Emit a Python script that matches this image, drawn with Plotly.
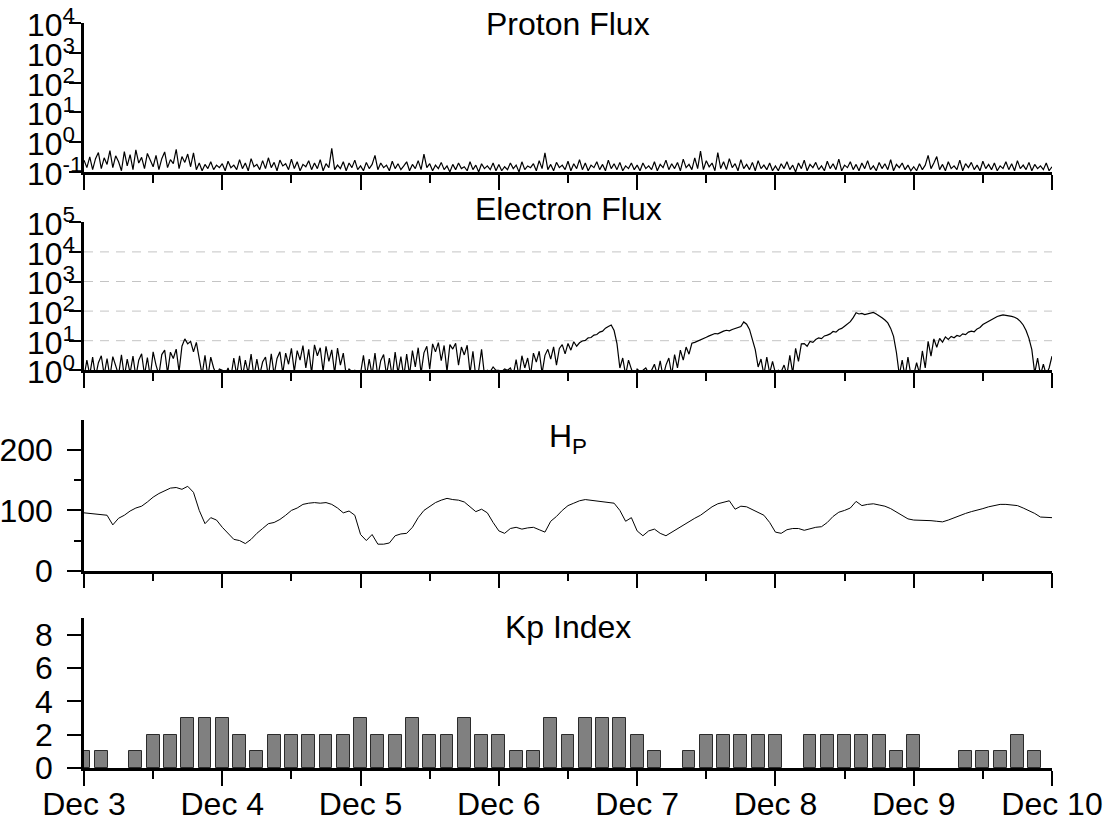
import numpy as np
import pandas as pd
import plotly.graph_objects as go

# ---------------- data ----------------
START = pd.Timestamp("2023-12-03 00:00")
END = pd.Timestamp("2023-12-10 00:00")

# Proton flux, 30-minute samples from Dec 3 00:00
proton_flux = [
    # Dec 3
    0.25,0.14,0.32,0.12,0.28,0.45,0.13,0.3,0.18,0.52,0.14,0.35,0.22,0.11,0.48,0.16,0.38,0.12,0.55,0.2,0.31,0.13,0.42,0.24,
    0.15,0.36,0.12,0.28,0.47,0.14,0.26,0.19,0.58,0.13,0.33,0.21,0.4,0.15,0.44,0.12,0.2,0.11,0.18,0.13,0.22,0.12,0.17,0.14,
    # Dec 4
    0.19,0.11,0.23,0.14,0.17,0.12,0.26,0.13,0.2,0.11,0.28,0.15,0.18,0.12,0.24,0.13,0.3,0.14,0.21,0.11,0.25,0.16,0.19,0.12,
    0.27,0.13,0.22,0.11,0.18,0.15,0.24,0.12,0.2,0.13,0.26,0.11,0.19,0.14,0.62,0.12,0.17,0.13,0.22,0.11,0.2,0.14,0.25,0.12,
    # Dec 5
    0.16,0.11,0.21,0.13,0.18,0.36,0.12,0.2,0.14,0.17,0.11,0.23,0.13,0.19,0.12,0.16,0.22,0.11,0.18,0.13,0.24,0.12,0.4,0.14,
    0.19,0.11,0.17,0.13,0.21,0.12,0.16,0.1,0.18,0.12,0.2,0.13,0.15,0.11,0.22,0.12,0.17,0.1,0.19,0.13,0.16,0.12,0.2,0.11,
    # Dec 6
    0.18,0.11,0.15,0.12,0.2,0.13,0.17,0.1,0.22,0.12,0.16,0.14,0.19,0.11,0.24,0.13,0.44,0.12,0.18,0.11,0.21,0.14,0.17,0.12,
    0.23,0.11,0.19,0.13,0.26,0.12,0.2,0.11,0.17,0.14,0.22,0.12,0.18,0.11,0.25,0.13,0.19,0.12,0.21,0.11,0.16,0.13,0.2,0.12,
    # Dec 7
    0.17,0.11,0.2,0.13,0.16,0.12,0.22,0.11,0.18,0.14,0.25,0.12,0.19,0.13,0.21,0.11,0.27,0.14,0.18,0.12,0.3,0.13,0.5,0.12,
    0.24,0.15,0.2,0.11,0.45,0.13,0.22,0.12,0.28,0.14,0.19,0.11,0.26,0.13,0.18,0.12,0.21,0.11,0.24,0.13,0.17,0.12,0.2,0.11,
    # Dec 8
    0.16,0.11,0.19,0.13,0.22,0.12,0.17,0.1,0.2,0.13,0.25,0.11,0.18,0.14,0.21,0.12,0.16,0.11,0.23,0.13,0.19,0.12,0.27,0.11,
    0.17,0.14,0.22,0.12,0.18,0.11,0.2,0.13,0.24,0.12,0.16,0.11,0.21,0.13,0.19,0.12,0.26,0.11,0.18,0.14,0.2,0.12,0.17,0.11,
    # Dec 9 (+ Dec 10 00:00)
    0.15,0.11,0.19,0.12,0.17,0.36,0.13,0.2,0.33,0.12,0.18,0.11,0.22,0.13,0.16,0.12,0.25,0.11,0.19,0.14,0.21,0.12,0.17,0.11,
    0.23,0.13,0.18,0.12,0.2,0.11,0.16,0.13,0.22,0.12,0.19,0.11,0.24,0.13,0.17,0.12,0.21,0.11,0.18,0.13,0.16,0.12,0.2,0.11,
    0.15,
]

# Electron flux, 30-minute samples from Dec 3 00:00 (values < 1 fall below the axis)
electron_flux = [
    # Dec 3
    0.6,2.2,0.7,2.8,0.6,1.8,3.1,0.7,2.5,0.6,2.9,1.4,0.7,3.3,0.6,2.4,0.8,3.0,0.6,2.2,3.6,0.7,2.7,0.6,
    4.2,1.5,0.7,3.4,4.8,0.8,4.1,2.5,5.2,0.9,6.5,11.5,7.8,9.5,4.2,8.8,2.6,0.7,3.2,0.6,2.8,1.2,0.7,1.1,
    # Dec 4
    1.0,0.7,1.2,0.6,2.6,0.7,3.1,0.6,2.2,0.8,3.5,0.6,2.4,0.7,1.9,2.8,0.6,3.6,0.7,2.5,4.2,0.8,3.8,1.6,
    5.5,0.9,4.6,2.2,6.8,1.2,5.1,0.8,7.2,3.1,5.8,0.9,6.4,2.0,4.9,0.8,5.6,1.5,3.8,0.7,1.1,0.9,1.0,0.7,
    # Dec 5
    0.8,3.2,0.6,2.4,0.7,3.8,0.6,2.1,3.4,0.7,2.6,0.6,4.1,0.8,2.9,0.6,3.5,0.7,4.6,1.3,5.8,0.8,3.9,6.5,
    1.1,7.8,4.2,8.6,2.1,6.9,0.9,7.4,5.2,8.2,1.5,6.1,3.3,7.0,0.8,4.4,0.6,1.0,5.1,0.7,1.0,0.9,1.3,1.0,
    # Dec 6
    1.0,0.9,1.1,1.0,1.2,0.7,2.3,0.6,3.1,1.2,2.6,0.7,3.8,1.9,4.4,0.8,3.2,5.1,2.4,6.2,1.5,5.5,7.4,3.6,
    8.1,4.8,9.2,6.5,8.5,9.8,10.2,12.5,12.8,15.5,16.2,19.5,21.0,26.5,30.0,34.0,22.0,8.0,1.2,2.6,0.7,2.2,1.1,0.6,
    # Dec 7
    1.1,0.9,1.0,1.2,0.8,1.0,1.6,0.7,2.1,0.6,1.5,2.6,0.7,3.4,1.2,4.8,2.2,6.1,3.5,8.2,8.8,9.6,10.5,11.5,
    13.0,14.5,15.5,17.5,17.0,19.5,21.0,22.5,21.5,24.0,25.5,27.0,30.0,43.0,36.0,24.0,12.0,5.0,1.3,2.4,0.7,2.8,0.8,2.0,
    # Dec 8
    0.8,1.0,0.9,1.5,0.7,3.2,0.8,5.5,2.0,7.8,8.0,6.5,9.5,8.8,11.0,12.5,11.8,14.5,15.5,17.0,20.5,19.5,24.0,26.0,
    31.0,36.0,44.0,60.0,88.0,80.0,84.0,76.0,82.0,86.0,90.0,80.0,70.0,60.0,50.0,40.0,26.0,14.0,4.0,0.7,2.2,0.6,2.8,0.7,
    # Dec 9 (+ Dec 10 00:00)
    0.7,1.8,0.8,4.5,1.2,9.5,3.0,11.5,6.0,12.0,9.0,13.5,11.0,14.0,12.5,15.0,14.0,17.0,16.0,19.5,21.0,20.0,25.0,28.0,
    35.0,40.0,46.0,52.0,60.0,66.0,70.0,74.0,72.0,70.0,66.0,62.0,55.0,45.0,34.0,22.0,12.0,5.0,0.8,2.6,0.7,1.6,0.7,1.2,
    3.0,
]

# H_P, hourly samples from Dec 3 00:00
hp_values = [
    96,95,94,93,92,76,87,92,99,104,107,114,122,128,133,137,138,135,140,130,100,78,88,84,
    72,62,52,50,45,52,62,70,78,80,85,92,100,104,110,112,113,112,113,110,104,96,99,92,
    60,50,60,44,44,46,58,61,62,72,88,100,107,113,117,120,118,117,114,106,98,102,96,80,
    66,62,70,72,69,71,72,68,64,82,90,100,108,112,116,118,117,116,114,113,112,100,82,88,
    66,58,66,69,62,58,64,70,75,82,87,92,99,106,111,114,116,102,107,106,101,96,92,80,
    64,62,68,70,70,67,70,72,73,80,90,97,100,104,115,108,110,111,109,107,103,97,92,86,
    84,84,83,83,82,81,84,88,91,95,98,100,103,106,108,110,110,109,108,104,100,95,89,88,
    88,
]

# Kp index, 3-hour bins starting Dec 3 00:00
kp_values = [1,1,0,1,2,2,3,3, 3,2,1,2,2,2,2,2, 3,2,2,3,2,2,3,2, 2,1,1,3,2,3,3,3,
             2,1,0,1,2,2,2,2, 2,0,2,2,2,2,2,1, 2,0,0,1,1,1,2,1]

proton_ticks = [0.1, 1, 10, 100, 1000, 10000]
proton_ticktext = ["10<sup>-1</sup>", "10<sup>0</sup>", "10<sup>1</sup>", "10<sup>2</sup>",
                   "10<sup>3</sup>", "10<sup>4</sup>"]
electron_ticks = [1, 10, 100, 1000, 10000, 100000]
electron_ticktext = ["10<sup>0</sup>", "10<sup>1</sup>", "10<sup>2</sup>", "10<sup>3</sup>",
                     "10<sup>4</sup>", "10<sup>5</sup>"]
electron_grid = [10, 100, 1000, 10000]
panel_titles = ["Proton Flux", "Electron Flux", "H<sub>P</sub>", "Kp Index"]

# ---------------- time bases ----------------
t_half = START + pd.to_timedelta(np.arange(len(proton_flux)) * 30, unit="min")
t_half_e = START + pd.to_timedelta(np.arange(len(electron_flux)) * 30, unit="min")
t_hour = START + pd.to_timedelta(np.arange(len(hp_values)) * 60, unit="min")
t_kp = START + pd.to_timedelta(np.arange(len(kp_values)) * 180, unit="min")
kp_plot = [v if v > 0 else None for v in kp_values]

FONT = "Arial, 'Liberation Sans', Helvetica, sans-serif"
FS = 32

fig = go.Figure()
fig.add_trace(go.Scatter(x=t_half, y=proton_flux, mode="lines",
                         line=dict(color="black", width=1.2), xaxis="x", yaxis="y"))
fig.add_trace(go.Scatter(x=t_half_e, y=electron_flux, mode="lines",
                         line=dict(color="black", width=1.2), xaxis="x2", yaxis="y2"))
fig.add_trace(go.Scatter(x=t_hour, y=hp_values, mode="lines",
                         line=dict(color="black", width=1), xaxis="x3", yaxis="y3"))
fig.add_trace(go.Bar(x=t_kp, y=kp_plot, width=0.75 * 3 * 3600 * 1000,
                     marker=dict(color="#808080", line=dict(color="#2b2b2b", width=1)),
                     xaxis="x4", yaxis="y4"))

# ---------------- layout ----------------
ML, MR, MT, MB = 84, 53, 23, 52
W, H = 1105, 820
PH = H - MT - MB
PW = W - ML - MR


def frac(px):
    return (H - MB - px) / PH


domains = [
    [frac(172), frac(23)],
    [frac(370.3), frac(222.3)],
    [frac(570.7), frac(420)],
    [frac(768), frac(618)],
]

xcommon = dict(
    type="date", range=[START, END], dtick=86400000, tick0=START,
    tickformat="%b %-d", ticks="outside", ticklen=15, tickwidth=2, tickcolor="black",
    minor=dict(dtick=43200000, ticks="outside", ticklen=8, tickwidth=2, tickcolor="black"),
    showline=True, linewidth=2.5, linecolor="black", showgrid=False, zeroline=False,
    tickfont=dict(family=FONT, size=FS, color="black"), automargin=False,
    ticklabelstandoff=-9,
)
ycommon = dict(
    ticks="outside", ticklen=14, tickwidth=2, tickcolor="black",
    showline=True, linewidth=2.5, linecolor="black", showgrid=False, zeroline=False,
    tickfont=dict(family=FONT, size=FS, color="black"), ticklabelstandoff=8,
    automargin=False,
)

layout = dict(
    width=W, height=H, margin=dict(l=ML, r=MR, t=MT, b=MB, autoexpand=False),
    paper_bgcolor="white", plot_bgcolor="white", showlegend=False,
    font=dict(family=FONT, size=FS, color="black"),
    bargap=0,
)
for i in range(4):
    n = "" if i == 0 else str(i + 1)
    layout["xaxis" + n] = dict(xcommon, anchor="y" + n, domain=[0, 1],
                               showticklabels=(i == 3))
layout["yaxis"] = dict(ycommon, type="log", range=[-1, 4], domain=domains[0],
                       tickmode="array", tickvals=proton_ticks, ticktext=proton_ticktext,
                       showticklabels=False, ticklen=12, anchor="x")
layout["yaxis2"] = dict(ycommon, type="log", range=[0, 5], domain=domains[1],
                        tickmode="array", tickvals=electron_ticks, ticktext=electron_ticktext,
                        showticklabels=False, ticklen=12, anchor="x2")
layout["yaxis3"] = dict(ycommon, range=[0, 250], domain=domains[2], tickmode="array",
                        tickvals=[0, 100, 200], anchor="x3",
                        minor=dict(tickmode="array", tickvals=[50, 150], ticks="outside",
                                   ticklen=7, tickwidth=2, tickcolor="black"))
layout["yaxis4"] = dict(ycommon, range=[0, 9], domain=domains[3], tickmode="array",
                        tickvals=[0, 2, 4, 6, 8], anchor="x4")
fig.update_layout(**layout)

# log-axis tick labels: "10" left-aligned in a column, exponent overhanging the tick
label_x = (25 - ML) / PW
for yref, vals, texts in (("y", proton_ticks, proton_ticktext),
                          ("y2", electron_ticks, electron_ticktext)):
    for v, t in zip(vals, texts):
        fig.add_annotation(text=t, xref="paper", x=label_x, yref=yref, y=float(np.log10(v)),
                           xanchor="left", yanchor="middle", showarrow=False,
                           font=dict(family=FONT, size=FS, color="black"))

# dashed grid lines on the electron panel
for g in electron_grid:
    fig.add_shape(type="line", xref="x2 domain", x0=0, x1=1, yref="y2", y0=g, y1=g,
                  line=dict(color="#c4c4c4", width=1, dash="9px,7px"), layer="below")

title_y_px = [24, 209, 438, 627]
for txt, ypx in zip(panel_titles, title_y_px):
    fig.add_annotation(text=txt, xref="paper", x=0.5, yref="paper", y=frac(ypx),
                       xanchor="center", yanchor="middle", showarrow=False,
                       font=dict(family=FONT, size=FS, color="black"))

fig.write_html("out.html", config={"displayModeBar": False},
               post_script="document.body.style.margin='0px';")
